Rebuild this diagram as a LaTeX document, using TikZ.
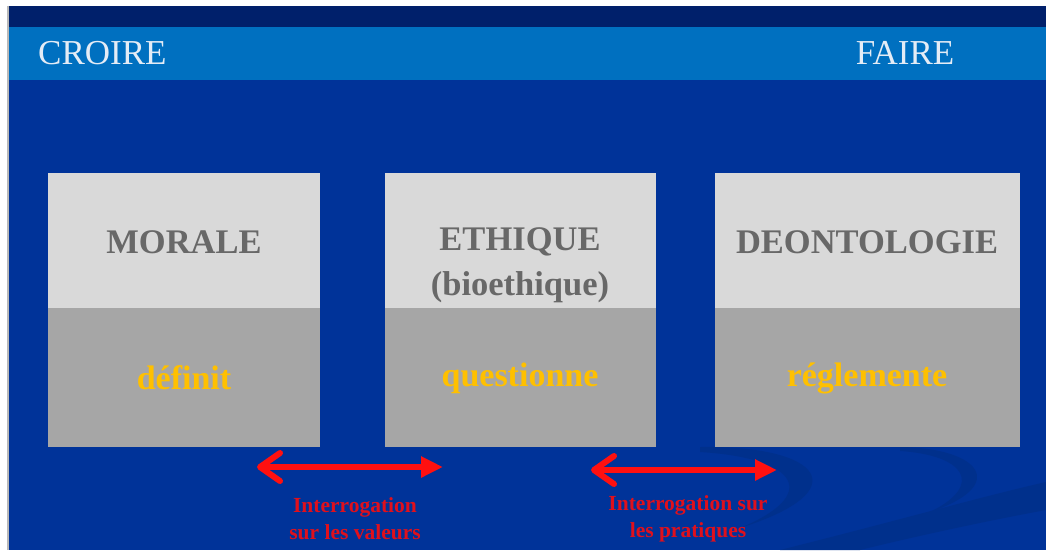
\documentclass[tikz,border=0pt]{standalone}
\usepackage{fontspec}
\setmainfont{Liberation Serif}
\usetikzlibrary{arrows.meta}
\definecolor{navyband}{HTML}{00206B}
\definecolor{lightband}{HTML}{0070C0}
\definecolor{bgblue}{HTML}{003399}
\definecolor{swoosh}{HTML}{00308C}
\definecolor{boxtop}{HTML}{D9D9D9}
\definecolor{boxbot}{HTML}{A6A6A6}
\definecolor{titlegray}{HTML}{686868}
\definecolor{verbyellow}{HTML}{FFC000}
\definecolor{arrowred}{HTML}{FF1010}
\definecolor{lblred}{HTML}{E0101C}
\definecolor{headtext}{HTML}{E4ECF6}
\tikzset{
  toppart/.style={fill=boxtop, draw=none, anchor=north west, inner sep=0pt, outer sep=0pt},
  botpart/.style={fill=boxbot, draw=none, anchor=north west, inner sep=0pt, outer sep=0pt},
  titletext/.style={text=titlegray, font=\fontsize{34.5}{45}\selectfont\bfseries, align=center, inner sep=0pt},
  verbtext/.style={text=verbyellow, font=\fontsize{34}{40}\selectfont\bfseries, inner sep=0pt},
  headlbl/.style={text=headtext, font=\fontsize{35}{36}\selectfont, inner sep=0pt},
  relarrow/.style={draw=arrowred, line width=6pt,
    {Straight Barb[length=20pt,width=28pt,round]}-{Triangle[length=22pt,width=20pt]}},
  rellbl/.style={text=lblred, font=\fontsize{21.5}{27}\selectfont\bfseries, align=center, inner sep=0pt}
}
\begin{document}
\begin{tikzpicture}[x=1pt,y=-1pt]
\useasboundingbox (0,0) rectangle (1046,550);
\fill[white] (0,0) rectangle (1046,550);
\fill[bgblue] (9,6) rectangle (1046,550);
\draw[gray!55, line width=1.2pt] (8,6) -- (8,550);
\fill[navyband] (9,6) rectangle (1046,27);
\fill[lightband] (9,27) rectangle (1046,80);
% decorative swooshes
\fill[swoosh] (700,447) .. controls (820,445) and (860,490) .. (740,528)
  .. controls (820,495) and (800,458) .. (700,452) -- cycle;
\fill[swoosh] (900,447) .. controls (980,448) and (1010,485) .. (930,512)
  .. controls (985,485) and (965,455) .. (900,451) -- cycle;
\fill[swoosh] (780,550) .. controls (900,520) and (980,497) .. (1046,482)
  -- (1046,510) .. controls (980,522) and (900,540) .. (860,550) -- cycle;
% header
\node[headlbl, anchor=west] (croire) at (38,53) {CROIRE};
\node[headlbl] (faire) at (905,53) {FAIRE};
% boxes
\node[toppart, minimum width=272pt, minimum height=135pt] (b1t) at (48,173) {};
\node[botpart, minimum width=272pt, minimum height=139pt] (b1b) at (48,308) {};
\node[toppart, minimum width=271pt, minimum height=135pt] (b2t) at (385,173) {};
\node[botpart, minimum width=271pt, minimum height=139pt] (b2b) at (385,308) {};
\node[toppart, minimum width=305pt, minimum height=135pt] (b3t) at (715,173) {};
\node[botpart, minimum width=305pt, minimum height=139pt] (b3b) at (715,308) {};
% box texts
\node[titletext] (morale) at (184,242) {MORALE};
\node[titletext] (ethique) at (520,265) {ETHIQUE\\(bioethique)};
\node[titletext] (deonto) at (867,242) {DEONTOLOGIE};
\node[verbtext] (definit) at (184,378) {définit};
\node[verbtext] (questionne) at (520,378) {questionne};
\node[verbtext] (reglemente) at (867,378) {réglemente};
% arrows
\coordinate (a1l) at (257,467);
\coordinate (a1r) at (443,467);
\coordinate (a2l) at (591,470);
\coordinate (a2r) at (777,470);
\draw[relarrow] (a1l) -- (a1r);
\draw[relarrow] (a2l) -- (a2r);
\node[rellbl] (lbl1) at (355,519) {Interrogation\\sur les valeurs};
\node[rellbl] (lbl2) at (688,519) {Interrogation sur\\les pratiques};
\end{tikzpicture}
\end{document}
